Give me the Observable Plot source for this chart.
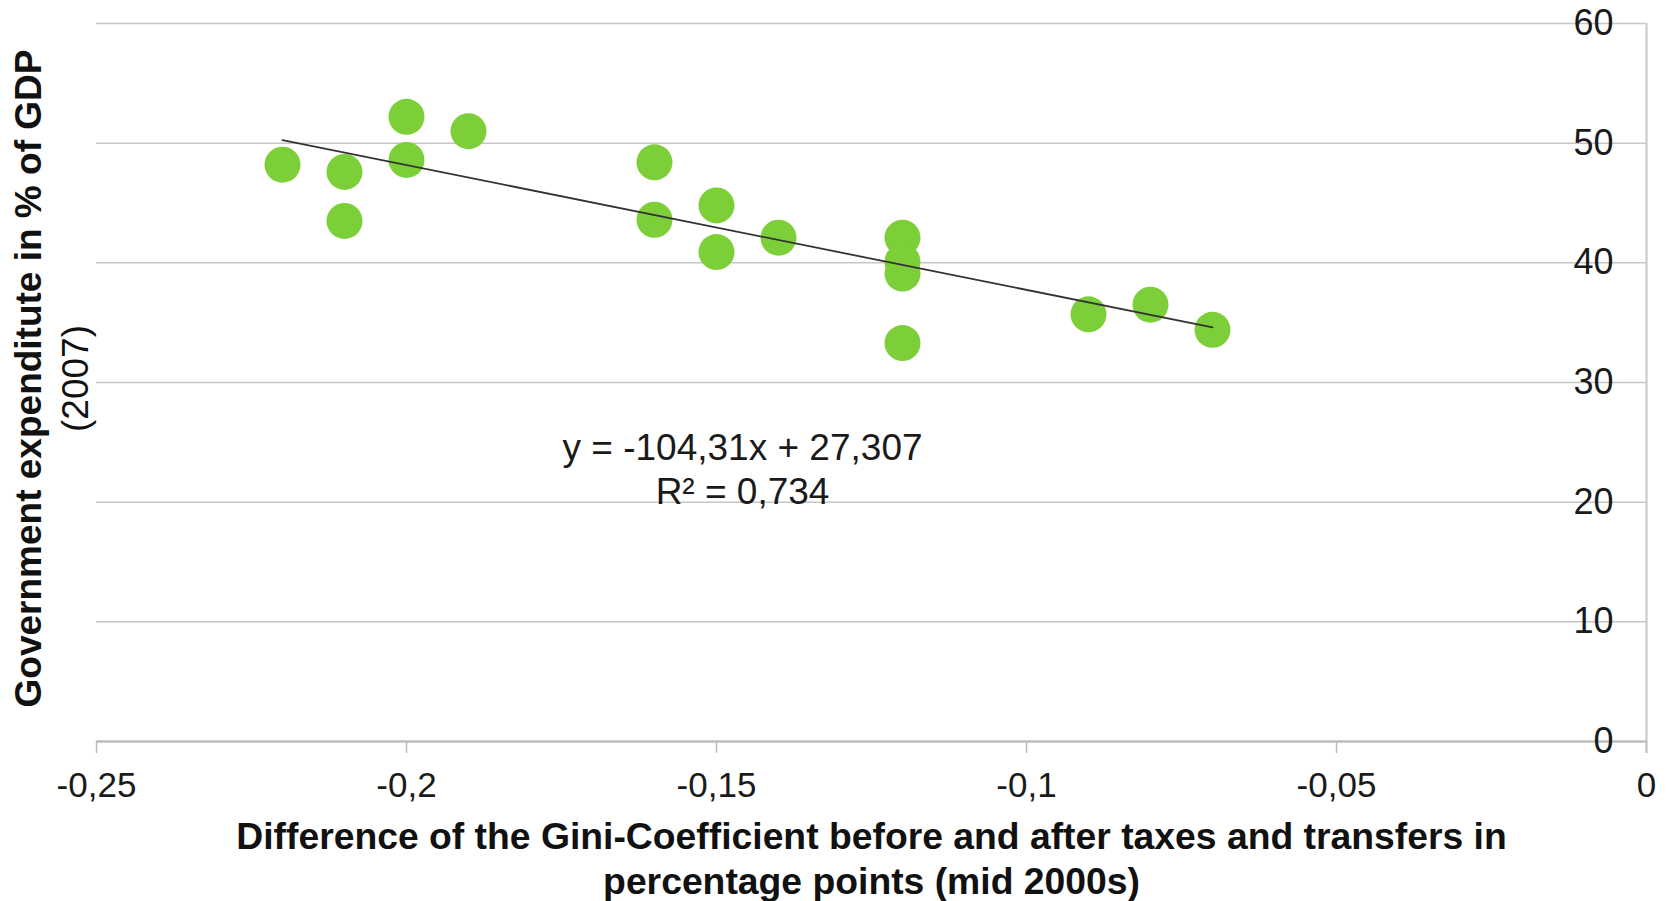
<!DOCTYPE html>
<html>
<head>
<meta charset="utf-8">
<script src="https://cdn.jsdelivr.net/npm/d3@7"></script>
<script src="https://cdn.jsdelivr.net/npm/@observablehq/plot@0.6"></script>
<style>
  html, body { margin: 0; padding: 0; background: #fff; }
  #chart svg { display: block; }
</style>
</head>
<body>
<div id="chart"></div>
<script>
// Data
const gini = [-0.22, -0.21, -0.21, -0.20, -0.20, -0.19, -0.16, -0.16, -0.15, -0.15, -0.14, -0.12, -0.12, -0.12, -0.12, -0.09, -0.08, -0.07];
const expenditure = [48.2, 47.6, 43.5, 52.2, 48.6, 51.0, 48.4, 43.6, 44.8, 40.9, 42.1, 42.1, 40.1, 39.1, 33.3, 35.7, 36.5, 34.4];
const xTicks = [-0.25, -0.2, -0.15, -0.1, -0.05, 0];
const yTicks = [0, 10, 20, 30, 40, 50, 60];
const slope = -104.31;
const intercept = 27.307;
const equationText = "y = -104,31x + 27,307\nR² = 0,734";
const xTitle = ["Difference of the Gini-Coefficient before and after taxes and transfers in", "percentage points (mid 2000s)"];
const yTitle = ["Government expenditute in % of GDP", "(2007)"];

const points = gini.map((x, i) => ({x, y: expenditure[i]}));
const trendX = [d3.min(gini), d3.max(gini)];
const fmt = d => String(d).replace(".", ",");
const font = "'Liberation Sans', Arial, sans-serif";

const chart = Plot.plot({
  width: 1669,
  height: 901,
  marginLeft: 96,
  marginRight: 23,
  marginTop: 23,
  marginBottom: 160,
  style: {fontFamily: font, color: "#1a1a1a", background: "#fff"},
  x: {domain: [-0.25, 0]},
  y: {domain: [0, 60]},
  marks: [
    Plot.gridY(yTicks.filter(d => d > 0), {stroke: "#c6c6c6", strokeOpacity: 1, strokeWidth: 1.5}),
    Plot.ruleX([0], {stroke: "#c6c6c6", strokeWidth: 2, insetBottom: -12}),
    Plot.ruleY([0], {stroke: "#bdbdbd", strokeWidth: 2.5}),
    Plot.axisX({ticks: xTicks, tickSize: 12, tickPadding: 19, tickFormat: fmt, stroke: "#bdbdbd", strokeWidth: 1.5, fontSize: 35, label: null}),
    Plot.axisY({anchor: "right", ticks: yTicks, tickSize: 0, tickPadding: 0, dx: -33, textAnchor: "end", fontSize: 36, label: null}),
    Plot.dot(points, {x: "x", y: "y", r: 18, fill: "#7dcf3a", stroke: "none"}),
    Plot.line(trendX, {x: d => d, y: d => slope * d + intercept, stroke: "#333", strokeWidth: 1.8}),
    Plot.text([equationText], {x: -0.1458, y: 22.85, fontSize: 37, lineHeight: 1.18, textAnchor: "middle", lineAnchor: "middle", fill: "#1a1a1a"}),
    Plot.text([xTitle[0]], {frameAnchor: "bottom", dy: 95.5, fontSize: 37.3, fontWeight: "bold", textAnchor: "middle", lineAnchor: "middle", fill: "#111"}),
    Plot.text([xTitle[1]], {frameAnchor: "bottom", dy: 140.5, fontSize: 37.3, fontWeight: "bold", textAnchor: "middle", lineAnchor: "middle", fill: "#111"}),
    Plot.text([yTitle[0]], {frameAnchor: "left", dx: -67, dy: -4, rotate: -90, fontSize: 37, fontWeight: "bold", textAnchor: "middle", lineAnchor: "middle", fill: "#111"}),
    Plot.text([yTitle[1]], {frameAnchor: "left", dx: -20, dy: -4, rotate: -90, fontSize: 37, textAnchor: "middle", lineAnchor: "middle", fill: "#111"})
  ]
});
document.getElementById("chart").appendChild(chart);
</script>
</body>
</html>
